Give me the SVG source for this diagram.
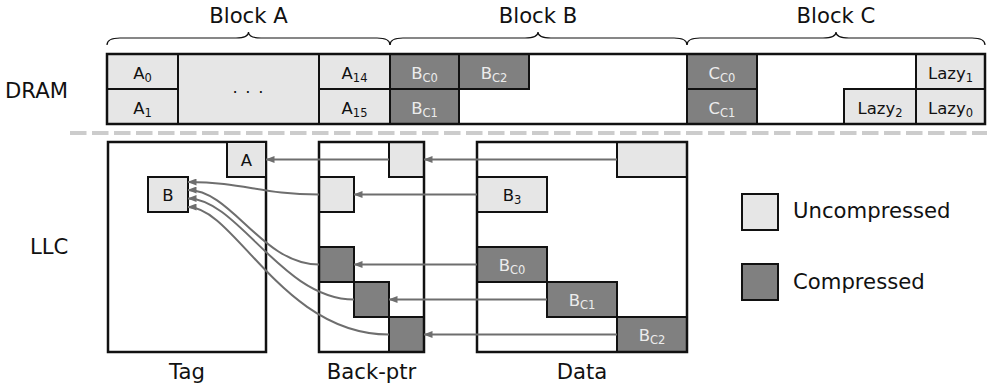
<svg xmlns="http://www.w3.org/2000/svg" width="987" height="390" viewBox="0 0 987 390">
<defs>
<style>
text{font-family:"DejaVu Sans","Liberation Sans",sans-serif;fill:#111}
.big{font-size:21.2px;text-anchor:middle}
.lab{font-size:21.2px}
.cell{font-size:16.5px;text-anchor:middle}
.sub{font-size:11.5px}
.lt{fill:#e6e6e6;stroke:#111;stroke-width:2}
.dk{fill:#808080;stroke:#111;stroke-width:2}
.box{fill:none;stroke:#111;stroke-width:2.5}
.wt{fill:#ececec}
.brace{fill:none;stroke:#111;stroke-width:1.2}
.sep{fill:none;stroke:#cccccc;stroke-width:4;stroke-dasharray:16.5 5.5}
.ar{fill:none;stroke:#6e6e6e;stroke-width:2;marker-end:url(#ah)}
</style>
<marker id="ah" markerUnits="userSpaceOnUse" markerWidth="9" markerHeight="7" refX="8.5" refY="3.5" orient="auto">
<path d="M0,0 L9,3.5 L0,7 z" fill="#6e6e6e"/>
</marker>
</defs>
<rect width="987" height="390" fill="#fff"/>

<g id="labels">
<text class="lab" x="5" y="98">DRAM</text>
<text class="lab" x="30" y="254">LLC</text>
<text class="big" x="248.5" y="23">Block A</text>
<text class="big" x="538" y="23">Block B</text>
<text class="big" x="836" y="23">Block C</text>
<text class="big" x="187" y="379">Tag</text>
<text class="big" x="371.5" y="379">Back-ptr</text>
<text class="big" x="582" y="379">Data</text>
</g>

<g id="braces">
<path class="brace" d="M107,45 Q107,38 120,38 L236,38 Q248.5,38 248.5,32 Q248.5,38 261,38 L377,38 Q390,38 390,45"/>
<path class="brace" d="M390,45 Q390,38 403,38 L525,38 Q538,38 538,32 Q538,38 551,38 L674,38 Q687,38 687,45"/>
<path class="brace" d="M687,45 Q687,38 700,38 L823,38 Q836,38 836,32 Q836,38 849,38 L972,38 Q985,38 985,45"/>
</g>

<g id="dram">
<rect x="107" y="54" width="878" height="70" fill="#fff" stroke="none"/>
<rect class="lt" x="107" y="54" width="71" height="35"/>
<rect class="lt" x="107" y="89" width="71" height="35"/>
<rect class="lt" x="178" y="54" width="141" height="70"/>
<rect class="lt" x="319" y="54" width="71" height="35"/>
<rect class="lt" x="319" y="89" width="71" height="35"/>
<rect class="dk" x="390" y="54" width="69" height="35"/>
<rect class="dk" x="390" y="89" width="69" height="35"/>
<rect class="dk" x="459" y="54" width="70" height="35"/>
<rect class="dk" x="687" y="54" width="70" height="35"/>
<rect class="dk" x="687" y="89" width="70" height="35"/>
<rect class="lt" x="916" y="54" width="69" height="35"/>
<rect class="lt" x="916" y="89" width="69" height="35"/>
<rect class="lt" x="844" y="89" width="72" height="35"/>
<rect class="box" x="107" y="54" width="878" height="70"/>
<text class="cell" x="142.5" y="78.5">A<tspan class="sub" dy="3">0</tspan></text>
<text class="cell" x="142.5" y="113.5">A<tspan class="sub" dy="3">1</tspan></text>
<text class="cell" x="248.5" y="93" letter-spacing="1.2">. . .</text>
<text class="cell" x="354.5" y="78.5">A<tspan class="sub" dy="3">14</tspan></text>
<text class="cell" x="354.5" y="113.5">A<tspan class="sub" dy="3">15</tspan></text>
<text class="cell wt" x="424.5" y="78.5">B<tspan class="sub" dy="3">C0</tspan></text>
<text class="cell wt" x="424.5" y="113.5">B<tspan class="sub" dy="3">C1</tspan></text>
<text class="cell wt" x="494" y="78.5">B<tspan class="sub" dy="3">C2</tspan></text>
<text class="cell wt" x="722" y="78.5">C<tspan class="sub" dy="3">C0</tspan></text>
<text class="cell wt" x="722" y="113.5">C<tspan class="sub" dy="3">C1</tspan></text>
<text class="cell" x="950.5" y="78.5">Lazy<tspan class="sub" dy="3">1</tspan></text>
<text class="cell" x="950.5" y="113.5">Lazy<tspan class="sub" dy="3">0</tspan></text>
<text class="cell" x="880" y="113.5">Lazy<tspan class="sub" dy="3">2</tspan></text>
</g>

<path class="sep" d="M70,133 L987,133"/>

<g id="tag">
<rect class="box" x="108" y="142" width="158" height="210"/>
<rect class="lt" x="227" y="142" width="39" height="35"/>
<rect class="lt" x="148" y="177" width="40" height="35"/>
<text class="cell" x="246.5" y="166">A</text>
<text class="cell" x="168" y="201">B</text>
</g>

<g id="backptr">
<rect x="319" y="142" width="105" height="210" fill="#fff"/>
<rect class="lt" x="389" y="142" width="35" height="35"/>
<rect class="lt" x="319" y="177" width="35" height="35"/>
<rect class="dk" x="319" y="247" width="35" height="35"/>
<rect class="dk" x="354" y="282" width="35" height="35"/>
<rect class="dk" x="389" y="317" width="35" height="35"/>
<rect class="box" x="319" y="142" width="105" height="210"/>
</g>

<g id="data">
<rect x="477" y="142" width="210" height="210" fill="#fff"/>
<rect class="lt" x="617" y="142" width="70" height="35"/>
<rect class="lt" x="477" y="177" width="70" height="35"/>
<rect class="dk" x="477" y="247" width="70" height="35"/>
<rect class="dk" x="547" y="282" width="70" height="35"/>
<rect class="dk" x="617" y="317" width="70" height="35"/>
<rect class="box" x="477" y="142" width="210" height="210"/>
<text class="cell" x="512" y="201">B<tspan class="sub" dy="3">3</tspan></text>
<text class="cell wt" x="512" y="271">B<tspan class="sub" dy="3">C0</tspan></text>
<text class="cell wt" x="582" y="306">B<tspan class="sub" dy="3">C1</tspan></text>
<text class="cell wt" x="652" y="341">B<tspan class="sub" dy="3">C2</tspan></text>
</g>

<g id="connectors">
<path class="ar" d="M617,159.5 L424,159.5"/>
<path class="ar" d="M389,159.5 L266,159.5"/>
<path class="ar" d="M477,194.5 L354,194.5"/>
<path class="ar" d="M477,264.5 L354,264.5"/>
<path class="ar" d="M547,299.5 L389,299.5"/>
<path class="ar" d="M617,334.5 L424,334.5"/>
<path class="ar" d="M319,194.5 C260,194.5 245,182 188,182"/>
<path class="ar" d="M319,264.5 C262,264.5 232,190 188,190"/>
<path class="ar" d="M354,299.5 C282,299.5 238,198.5 188,198.5"/>
<path class="ar" d="M389,334.5 C282,334.5 235,207 188,207"/>
</g>

<g id="legend">
<rect class="lt" x="742" y="194" width="36" height="36"/>
<rect class="dk" x="742" y="264" width="36" height="36"/>
<text class="lab" x="793" y="218">Uncompressed</text>
<text class="lab" x="793" y="289">Compressed</text>
</g>
</svg>
